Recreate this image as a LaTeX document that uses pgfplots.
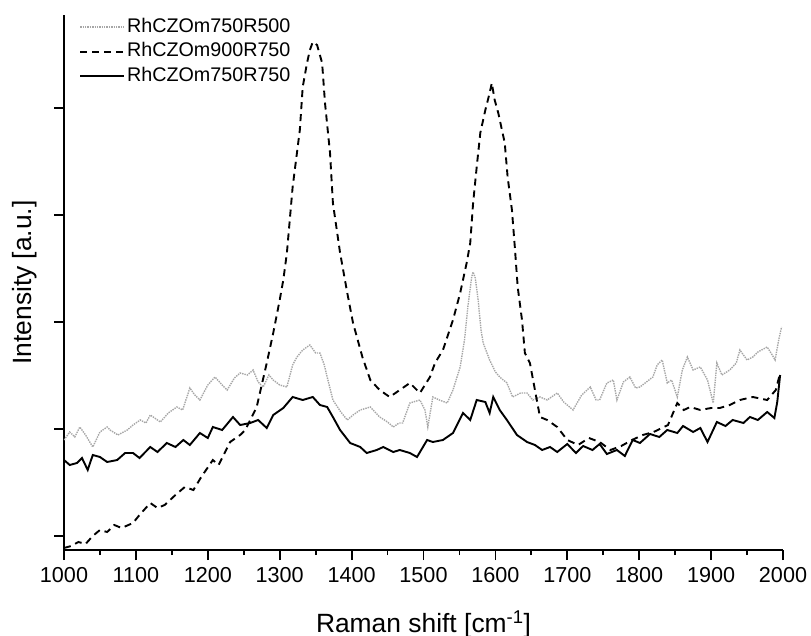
\documentclass[border=0pt]{standalone}
\usepackage{pgfplots}
\pgfplotsset{compat=1.18}
\usepackage{fontspec}
\setmainfont{Liberation Sans}
\begin{document}
\begin{tikzpicture}
\begin{axis}[
  scale only axis,
  width=719bp, height=535bp,
  xmin=1000, xmax=2000, ymin=0, ymax=535,
  axis lines*=left,
  axis line style={line width=2bp, black},
  tick style={line width=1.8bp, black},
  tick align=outside,
  major tick length=10bp, minor tick length=5bp,
  xtick={1000,1100,...,2000},
  minor x tick num=1,
  ytick={14,121,228,335,442},
  yticklabels={},
  /pgf/number format/assume math mode=true,
  /pgf/number format/1000 sep={},
  ticklabel style={font=\fontsize{21.7}{24}\selectfont},
  xticklabel style={yshift=-4bp},
  xlabel={Raman shift [cm\textsuperscript{-1}]},
  label style={font=\fontsize{26.5}{30}\selectfont},
  xlabel style={at={(axis description cs:0.5,0)}, anchor=base, yshift=-82bp},
  legend style={draw=none, fill=none, at={(axis description cs:0,1)}, anchor=north west,
    xshift=12bp, yshift=-1bp, font=\fontsize{19.8}{20}\selectfont,
    nodes={inner ysep=0pt, text height=14bp, text depth=4bp}, row sep=6.5bp},
  legend cell align=left,
  legend image code/.code={\draw[#1] (0bp,0bp) -- (44bp,0bp);},
]
\addplot[gray!70, line width=1.4bp, densely dotted] coordinates {
(1000,110)(1008,118)(1015,113)(1022,123)(1030,115)(1040,103)(1050,118)(1060,123)(1064,120)(1075,115)
(1088,120)(1096,125)(1106,130)(1114,127)(1120,135)(1130,130)(1134,128)(1145,137)(1157,143)(1165,140)
(1175,162)(1182,155)(1189,150)(1200,165)(1210,173)(1220,165)(1227,160)(1237,172)(1245,177)(1255,175)
(1263,180)(1270,168)(1277,163)(1285,175)(1291,170)(1300,165)(1310,163)(1318,185)(1324,193)(1332,200)
(1342,205)(1350,197)(1356,197)(1362,185)(1366,173)(1374,150)(1385,138)(1394,130)(1402,135)(1412,140)
(1426,143)(1439,133)(1450,128)(1458,123)(1466,127)(1471,127)(1481,147)(1495,150)(1502,140)(1506,123)
(1513,153)(1522,150)(1533,147)(1541,160)(1551,183)(1557,210)(1562,245)(1567,273)(1569,278)(1572,272)
(1576,250)(1580,220)(1583,207)(1592,190)(1600,178)(1606,173)(1616,167)(1624,153)(1635,157)(1644,157)
(1652,150)(1662,153)(1672,150)(1686,157)(1695,148)(1708,140)(1720,155)(1732,163)(1740,150)(1745,150)
(1755,167)(1764,170)(1769,150)(1778,168)(1787,173)(1795,162)(1801,163)(1810,168)(1819,173)(1825,185)
(1832,190)(1839,167)(1845,170)(1853,153)(1860,180)(1867,193)(1875,180)(1885,183)(1895,170)(1903,147)
(1908,187)(1915,175)(1926,180)(1935,187)(1940,200)(1950,190)(1958,193)(1965,198)(1978,203)(1985,195)
(1989,190)(1994,210)(1998,223)
};
\addlegendentry{RhCZOm750R500}
\addplot[black, line width=1.9bp, dash pattern=on 7bp off 5bp] coordinates {
(1000,2)(1010,4)(1020,8)(1030,6)(1040,14)(1050,20)(1060,18)(1070,25)(1080,22)(1096,27)
(1105,35)(1120,47)(1130,42)(1140,45)(1155,55)(1168,63)(1180,60)(1190,72)(1207,90)(1215,85)
(1231,108)(1245,115)(1252,120)(1268,143)(1282,187)(1291,217)(1300,250)(1305,270)(1310,297)(1318,363)
(1328,420)(1332,463)(1338,487)(1342,500)(1346,508)(1352,505)(1359,487)(1363,447)(1370,397)(1374,347)
(1384,297)(1394,257)(1402,227)(1415,193)(1426,170)(1439,160)(1453,153)(1467,160)(1481,167)(1495,157)
(1509,173)(1516,187)(1527,200)(1541,230)(1551,257)(1560,287)(1565,307)(1569,347)(1574,383)(1579,417)
(1586,440)(1592,457)(1595,467)(1599,450)(1604,437)(1613,407)(1617,373)(1623,340)(1627,303)(1631,263)
(1637,230)(1641,197)(1648,187)(1655,160)(1662,133)(1672,130)(1686,123)(1700,110)(1715,105)(1730,112)
(1745,108)(1760,100)(1775,104)(1790,110)(1805,115)(1820,118)(1840,125)(1853,147)(1862,140)(1871,143)
(1885,140)(1900,142)(1912,142)(1926,145)(1940,150)(1958,153)(1978,150)(1990,160)(1996,177)
};
\addlegendentry{RhCZOm900R750}
\addplot[black, line width=1.9bp] coordinates {
(1000,90)(1008,85)(1018,87)(1025,92)(1033,80)(1040,95)(1050,93)(1060,88)(1074,90)(1085,97)
(1096,97)(1105,92)(1120,103)(1130,98)(1143,107)(1155,103)(1166,110)(1175,105)(1189,117)(1200,112)
(1207,123)(1220,120)(1235,133)(1245,125)(1259,127)(1270,130)(1282,122)(1291,135)(1305,142)(1318,153)
(1332,150)(1346,153)(1356,145)(1366,143)(1374,133)(1384,120)(1398,107)(1412,103)(1421,97)(1435,100)
(1444,103)(1458,98)(1467,100)(1481,97)(1491,93)(1505,110)(1513,108)(1527,110)(1541,117)(1555,137)
(1565,130)(1574,150)(1586,148)(1592,137)(1597,153)(1606,140)(1616,130)(1630,115)(1644,108)(1655,105)
(1665,100)(1676,103)(1686,98)(1700,106)(1712,97)(1722,104)(1735,100)(1745,106)(1755,96)(1769,100)
(1780,94)(1791,110)(1801,107)(1815,116)(1828,113)(1839,120)(1853,117)(1861,124)(1875,118)(1885,122)
(1895,108)(1908,128)(1920,124)(1930,130)(1945,127)(1954,133)(1965,130)(1978,138)(1988,132)(1992,148)
(1996,175)
};
\addlegendentry{RhCZOm750R750}
\end{axis}
\node[rotate=90, anchor=center, font=\fontsize{26.5}{30}\selectfont] at (-39bp,267.5bp) {Intensity [a.u.]};
\pgfresetboundingbox
\path[use as bounding box] (-64bp,-86bp) rectangle (747bp,550bp);
\end{tikzpicture}
\end{document}
